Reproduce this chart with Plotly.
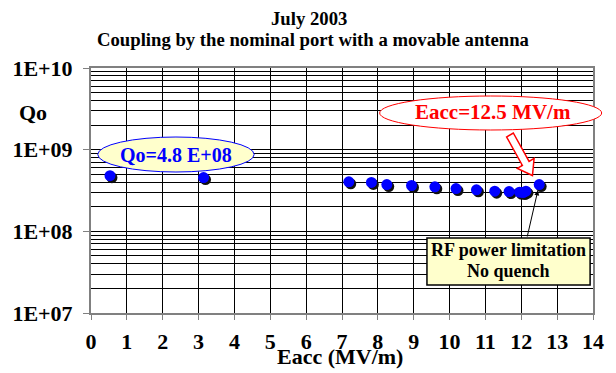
import math
import plotly.graph_objects as go

# Measured Q0 versus accelerating field
eacc = [0.53, 3.14, 7.19, 7.82, 8.25, 8.94, 9.59, 10.18, 10.75, 11.26, 11.66, 11.95, 12.05, 12.13, 12.5]
q0 = [4.8e8, 4.56e8, 4.04e8, 3.97e8, 3.74e8, 3.64e8, 3.51e8, 3.34e8, 3.22e8, 3.10e8,
      3.07e8, 3.02e8, 2.99e8, 3.10e8, 3.74e8]

x_ticks = list(range(0, 15))
y_tickvals = [1e7, 1e8, 1e9, 1e10]
y_ticktext = ["1E+07", "1E+08", "1E+09", "1E+10"]

title_lines = ["July 2003", "Coupling by the nominal port with a movable antenna"]
low_field_note = "Qo=4.8 E+08"
max_field_note = "Eacc=12.5 MV/m"
limit_note = ["RF power limitation", "No quench"]

FONT = "Liberation Serif, Times New Roman, serif"
W, H = 616, 373
ML, MR, MT, MB = 84, 12, 68, 60
PW, PH = W - ML - MR, H - MT - MB
X_RANGE = [0, 14]
Y_RANGE = [7, 10]  # log10 decades


def bold(size, color="black"):
    return dict(family=FONT, size=size, color=color)


def px_to_paper(px, py):
    return (px - ML) / PW, (H - MB - py) / PH


def data_to_px(x, y):
    px = ML + (x - X_RANGE[0]) / (X_RANGE[1] - X_RANGE[0]) * PW
    py = H - MB - (math.log10(y) - Y_RANGE[0]) / (Y_RANGE[1] - Y_RANGE[0]) * PH
    return px, py


fig = go.Figure()

# drop shadow of the markers: same data on overlay axes shifted by 2 px
sx = 2 * (X_RANGE[1] - X_RANGE[0]) / PW
sy = 2 * (Y_RANGE[1] - Y_RANGE[0]) / PH
fig.add_trace(go.Scatter(x=eacc, y=q0, mode="markers", xaxis="x2", yaxis="y2",
                         marker=dict(size=11, color="#101010"), hoverinfo="skip",
                         showlegend=False))
fig.add_trace(go.Scatter(x=eacc, y=q0, mode="markers", xaxis="x3", yaxis="y3",
                         marker=dict(size=11, color="#0000ff"), showlegend=False))

fig.update_layout(
    width=W, height=H,
    margin=dict(l=ML, r=MR, t=MT, b=MB),
    font=dict(family=FONT, color="black"),
    paper_bgcolor="white", plot_bgcolor="white",
    xaxis=dict(range=X_RANGE, tickvals=x_ticks,
               ticktext=[f"<b>{v}</b>" for v in x_ticks],
               showgrid=True, gridcolor="#000000", gridwidth=1,
               showline=True, linecolor="#808080", linewidth=2, mirror=True,
               ticks="outside", ticklen=5, tickcolor="#808080", ticklabelstandoff=3,
               tickfont=bold(22), zeroline=False, fixedrange=True),
    yaxis=dict(type="log", range=Y_RANGE, tickvals=y_tickvals,
               ticktext=[f"<b>{t}</b>" for t in y_ticktext],
               showgrid=True, gridcolor="#000000", gridwidth=1,
               minor=dict(dtick="D1", showgrid=True, gridcolor="#000000", gridwidth=1,
                          ticks=""),
               showline=True, linecolor="#808080", linewidth=2, mirror=True,
               ticks="outside", ticklen=6, tickcolor="#808080", ticklabelstandoff=6,
               tickfont=bold(22), zeroline=False, fixedrange=True),
    xaxis2=dict(range=[X_RANGE[0] - sx, X_RANGE[1] - sx], overlaying="x", visible=False),
    yaxis2=dict(type="log", range=[Y_RANGE[0] + sy, Y_RANGE[1] + sy], overlaying="y",
                visible=False),
    xaxis3=dict(range=X_RANGE, overlaying="x", visible=False),
    yaxis3=dict(type="log", range=Y_RANGE, overlaying="y", visible=False),
)

ann = []


def text_at(text, px, py, font, **kw):
    x, y = px_to_paper(px, py)
    d = dict(text=text, x=x, y=y, xref="paper", yref="paper", showarrow=False,
             xanchor="center", yanchor="middle", font=font)
    d.update(kw)
    ann.append(d)


# title lines
text_at(f"<b>{title_lines[0]}</b>", 310, 18, bold(18.7))
text_at(f"<b>{title_lines[1]}</b>", 314, 40, bold(18.7))

# axis titles
text_at("<b>Qo</b>", 24, 112, bold(22))
text_at("<b>Eacc (MV/m)</b>", 342, 356, bold(22))

# yellow ellipse note
x0, y0 = px_to_paper(91, 172)
x1, y1 = px_to_paper(253, 137)
fig.add_shape(type="circle", xref="paper", yref="paper", x0=x0, y0=y0, x1=x1, y1=y1,
              fillcolor="#ffffcc", line=dict(color="#0000ff", width=1))
text_at(f"<b>{low_field_note}</b>", 172, 155, bold(20, "#0000ff"))

# red ellipse note
x0, y0 = px_to_paper(383, 130)
x1, y1 = px_to_paper(613, 96)
fig.add_shape(type="circle", xref="paper", yref="paper", x0=x0, y0=y0, x1=x1, y1=y1,
              fillcolor="white", line=dict(color="#ff0000", width=1))
text_at(f"<b>{max_field_note}</b>", 500, 112, bold(21, "#ff0000"))

# hollow block arrow pointing at the highest-field point
hx, hy = data_to_px(eacc[-1], q0[-1])
tip = (hx - 7, hy - 9)
tail = (518, 135)
dx, dy = tip[0] - tail[0], tip[1] - tail[1]
L = math.hypot(dx, dy)
ux, uy = dx / L, dy / L
nx, ny = uy, -ux
head_len, w_shaft, w_head = 14, 4, 10
bx, by = tip[0] - ux * head_len, tip[1] - uy * head_len
pts = [
    (tail[0] + nx * w_shaft, tail[1] + ny * w_shaft),
    (bx + nx * w_shaft, by + ny * w_shaft),
    (bx + nx * w_head, by + ny * w_head),
    tip,
    (bx - nx * w_head, by - ny * w_head),
    (bx - nx * w_shaft, by - ny * w_shaft),
    (tail[0] - nx * w_shaft, tail[1] - ny * w_shaft),
]
pp = [px_to_paper(a, b) for a, b in pts]
path = "M " + " L ".join(f"{a:.5f},{b:.5f}" for a, b in pp) + " Z"
fig.add_shape(type="path", xref="paper", yref="paper", path=path,
              fillcolor="white", line=dict(color="#ff0000", width=1.5))

# boxed note with arrow to the last point
x0, y0 = px_to_paper(432, 285)
x1, y1 = px_to_paper(601, 238)
fig.add_shape(type="rect", xref="paper", yref="paper", x0=x0, y0=y0, x1=x1, y1=y1,
              fillcolor="#ffffcc", line=dict(color="#000000", width=1.5))
text_at(f"<b>{limit_note[0]}</b>", 516, 250, bold(18))
text_at(f"<b>{limit_note[1]}</b>", 516, 271, bold(18))
ann.append(dict(text="", x=eacc[-1], y=math.log10(q0[-1]), xref="x", yref="y",
                showarrow=True, ax=536 - hx, ay=238 - hy, axref="pixel", ayref="pixel",
                arrowhead=2, arrowsize=1, arrowwidth=1, arrowcolor="black", standoff=6))

fig.update_layout(annotations=ann)
fig.write_html("out.html")
